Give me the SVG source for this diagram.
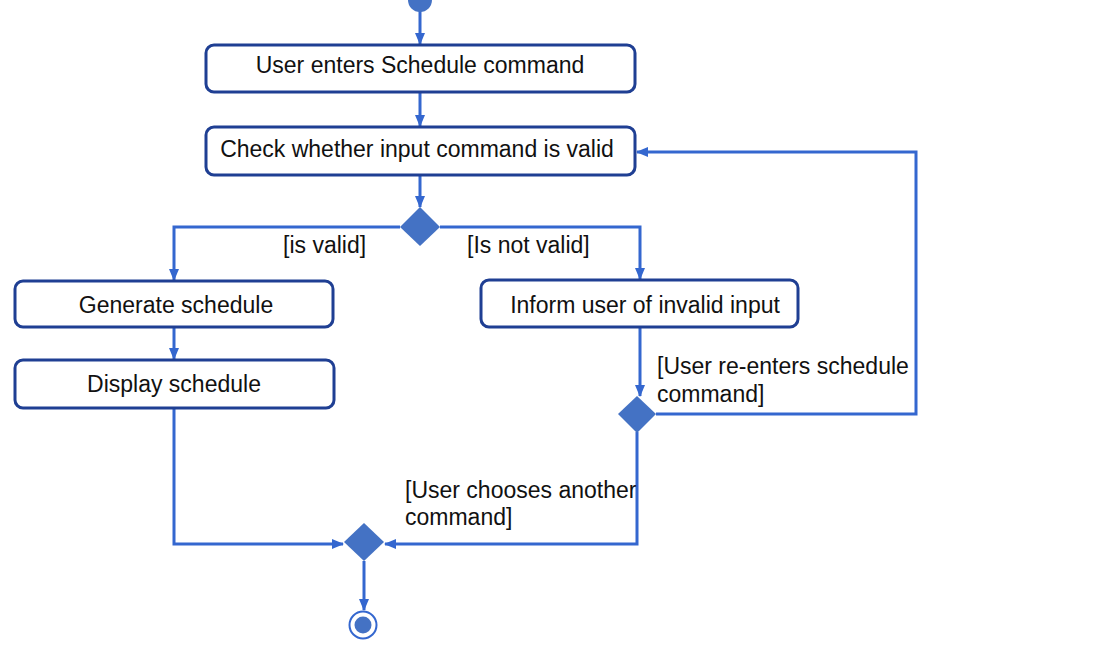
<svg xmlns="http://www.w3.org/2000/svg" width="1097" height="653" viewBox="0 0 1097 653">
<defs>
<style>
.box{fill:#fff;stroke:#1F3F93;stroke-width:3}
.dec{fill:#4472C4;stroke:none}
.ln{fill:none;stroke:#3467CF;stroke-width:3}
text{font-family:"Liberation Sans",Arial,sans-serif;font-size:23px;fill:#111}
.c{text-anchor:middle}
</style>
<marker id="ah" viewBox="0 0 12 12" refX="11" refY="6" markerWidth="12" markerHeight="12" markerUnits="userSpaceOnUse" orient="auto">
<path d="M0,1 L12,6 L0,11 Z" fill="#3467CF"/>
</marker>
</defs>
<rect width="1097" height="653" fill="#fff"/>
<g id="connectors">
<path class="ln" d="M420,10 V44" marker-end="url(#ah)"/>
<path class="ln" d="M420,92 V126" marker-end="url(#ah)"/>
<path class="ln" d="M420,175 V207" marker-end="url(#ah)"/>
<path class="ln" d="M400,227 H174 V280" marker-end="url(#ah)"/>
<path class="ln" d="M440,227 H640 V279" marker-end="url(#ah)"/>
<path class="ln" d="M174,327 V359" marker-end="url(#ah)"/>
<path class="ln" d="M640,327 V396" marker-end="url(#ah)"/>
<path class="ln" d="M656,414 H916 V152 H637" marker-end="url(#ah)"/>
<path class="ln" d="M174,408 V544 H343" marker-end="url(#ah)"/>
<path class="ln" d="M637,432 V544 H385" marker-end="url(#ah)"/>
<path class="ln" d="M364,561 V610" marker-end="url(#ah)"/>
</g>
<g id="start"><circle cx="420" cy="0" r="12" fill="#4472C4"/></g>
<g id="n1"><rect class="box" x="206" y="45" width="429" height="47" rx="8"/><text class="c" x="420" y="73">User enters Schedule command</text></g>
<g id="n2"><rect class="box" x="206" y="127" width="429" height="48" rx="8"/><text class="c" x="417" y="157">Check whether input command is valid</text></g>
<g id="d1"><polygon class="dec" points="420,207 440,227 420,246 400,227"/></g>
<g id="l1"><text x="283" y="253">[is valid]</text></g>
<g id="l2"><text x="467" y="253">[Is not valid]</text></g>
<g id="n3"><rect class="box" x="15" y="281" width="318" height="46" rx="8"/><text class="c" x="176" y="313">Generate schedule</text></g>
<g id="n4"><rect class="box" x="15" y="360" width="319" height="48" rx="8"/><text class="c" x="174" y="392">Display schedule</text></g>
<g id="n5"><rect class="box" x="481" y="280" width="317" height="47" rx="8"/><text class="c" x="645" y="313">Inform user of invalid input</text></g>
<g id="d2"><polygon class="dec" points="637,396 656,414 637,433 618,414"/></g>
<g id="l3"><text x="657" y="374">[User re-enters schedule</text><text x="657" y="402">command]</text></g>
<g id="l4"><text x="405" y="498">[User chooses another</text><text x="405" y="525">command]</text></g>
<g id="d3"><polygon class="dec" points="364,523 384,542 364,561 344,542"/></g>
<g id="end"><circle cx="363" cy="625" r="13.5" fill="#fff" stroke="#3467CF" stroke-width="2"/><circle cx="363" cy="625" r="8.5" fill="#4472C4"/></g>
</svg>
